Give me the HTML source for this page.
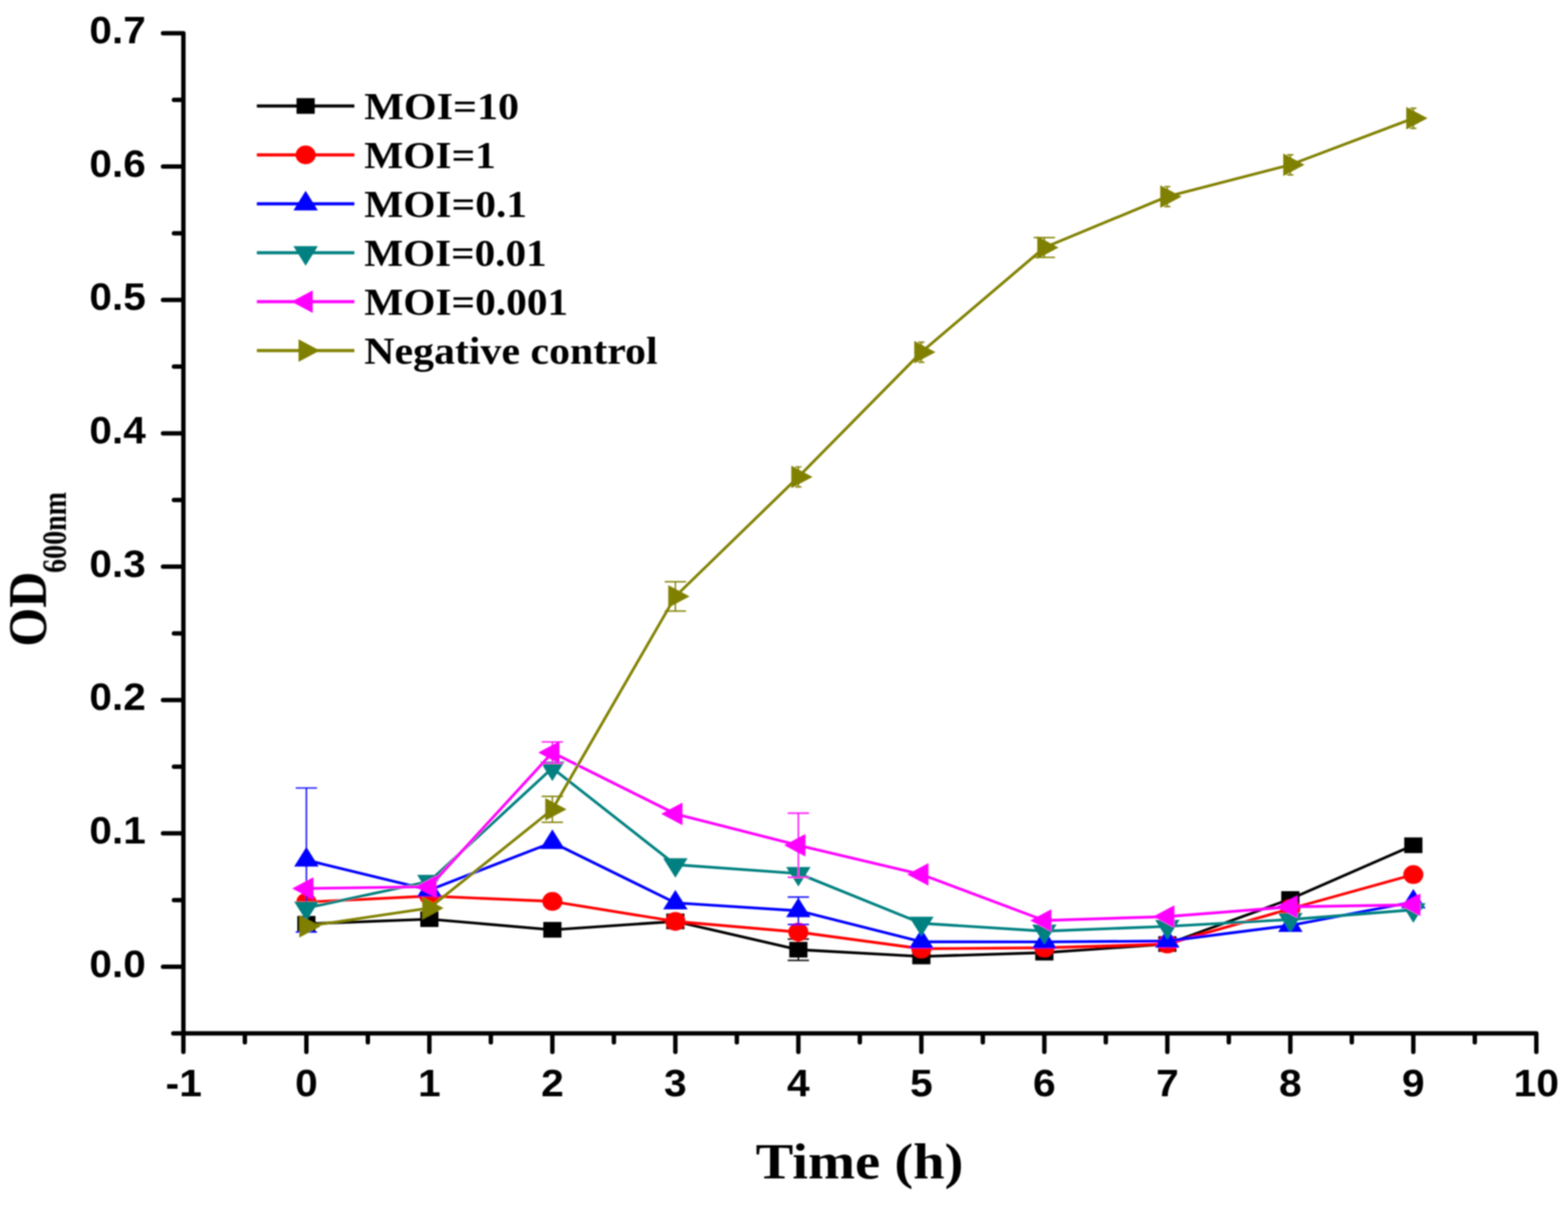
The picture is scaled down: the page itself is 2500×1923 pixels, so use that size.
<!DOCTYPE html>
<html><head><meta charset="utf-8"><title>OD600 growth curve</title>
<style>html,body{margin:0;padding:0;background:#fff;overflow:hidden;width:2500px;height:1923px;}svg{display:block;}</style></head>
<body><svg width="2500" height="1923" viewBox="0 0 2500 1923">
<defs><filter id="soft" x="0" y="0" width="100%" height="100%" filterUnits="userSpaceOnUse"><feGaussianBlur stdDeviation="1.2"/></filter></defs>
<rect width="2500" height="1923" fill="#fff"/>
<g filter="url(#soft)">
<path d="M259.9,53.0H292.4V1677.3M276.3,1647.8H2449.5V1677.3M259.9,1541.5H292.4M259.9,1328.8H292.4M259.9,1116.2H292.4M259.9,903.6H292.4M259.9,690.9H292.4M259.9,478.2H292.4M259.9,265.6H292.4M277.3,1435.2H292.4M277.3,1222.5H292.4M277.3,1009.9H292.4M277.3,797.2H292.4M277.3,584.6H292.4M277.3,371.9H292.4M277.3,159.3H292.4M488.5,1647.8V1677.3M684.6,1647.8V1677.3M880.7,1647.8V1677.3M1076.8,1647.8V1677.3M1272.9,1647.8V1677.3M1469.0,1647.8V1677.3M1665.1,1647.8V1677.3M1861.2,1647.8V1677.3M2057.3,1647.8V1677.3M2253.4,1647.8V1677.3M390.4,1647.8V1661.9M586.5,1647.8V1661.9M782.6,1647.8V1661.9M978.8,1647.8V1661.9M1174.8,1647.8V1661.9M1370.9,1647.8V1661.9M1567.0,1647.8V1661.9M1763.1,1647.8V1661.9M1959.2,1647.8V1661.9M2155.3,1647.8V1661.9M2351.4,1647.8V1661.9" fill="none" stroke="#000" stroke-width="7.0" stroke-linecap="round" stroke-linejoin="round"/>
<text transform="translate(232.40,1557.50) scale(1.0500,1)" text-anchor="end" font-family="&quot;Liberation Sans&quot;, Arial, sans-serif" font-weight="bold" font-size="61.6" fill="#000">0.0</text>
<text transform="translate(232.40,1344.85) scale(1.0500,1)" text-anchor="end" font-family="&quot;Liberation Sans&quot;, Arial, sans-serif" font-weight="bold" font-size="61.6" fill="#000">0.1</text>
<text transform="translate(232.40,1132.20) scale(1.0500,1)" text-anchor="end" font-family="&quot;Liberation Sans&quot;, Arial, sans-serif" font-weight="bold" font-size="61.6" fill="#000">0.2</text>
<text transform="translate(232.40,919.55) scale(1.0500,1)" text-anchor="end" font-family="&quot;Liberation Sans&quot;, Arial, sans-serif" font-weight="bold" font-size="61.6" fill="#000">0.3</text>
<text transform="translate(232.40,706.90) scale(1.0500,1)" text-anchor="end" font-family="&quot;Liberation Sans&quot;, Arial, sans-serif" font-weight="bold" font-size="61.6" fill="#000">0.4</text>
<text transform="translate(232.40,494.25) scale(1.0500,1)" text-anchor="end" font-family="&quot;Liberation Sans&quot;, Arial, sans-serif" font-weight="bold" font-size="61.6" fill="#000">0.5</text>
<text transform="translate(232.40,281.60) scale(1.0500,1)" text-anchor="end" font-family="&quot;Liberation Sans&quot;, Arial, sans-serif" font-weight="bold" font-size="61.6" fill="#000">0.6</text>
<text transform="translate(232.40,68.95) scale(1.0500,1)" text-anchor="end" font-family="&quot;Liberation Sans&quot;, Arial, sans-serif" font-weight="bold" font-size="61.6" fill="#000">0.7</text>
<text transform="translate(292.90,1747.60) scale(1.0550,1)" text-anchor="middle" font-family="&quot;Liberation Sans&quot;, Arial, sans-serif" font-weight="bold" font-size="61.6" fill="#000">-1</text>
<text transform="translate(488.50,1747.60) scale(1.0550,1)" text-anchor="middle" font-family="&quot;Liberation Sans&quot;, Arial, sans-serif" font-weight="bold" font-size="61.6" fill="#000">0</text>
<text transform="translate(684.60,1747.60) scale(1.0550,1)" text-anchor="middle" font-family="&quot;Liberation Sans&quot;, Arial, sans-serif" font-weight="bold" font-size="61.6" fill="#000">1</text>
<text transform="translate(880.70,1747.60) scale(1.0550,1)" text-anchor="middle" font-family="&quot;Liberation Sans&quot;, Arial, sans-serif" font-weight="bold" font-size="61.6" fill="#000">2</text>
<text transform="translate(1076.80,1747.60) scale(1.0550,1)" text-anchor="middle" font-family="&quot;Liberation Sans&quot;, Arial, sans-serif" font-weight="bold" font-size="61.6" fill="#000">3</text>
<text transform="translate(1272.90,1747.60) scale(1.0550,1)" text-anchor="middle" font-family="&quot;Liberation Sans&quot;, Arial, sans-serif" font-weight="bold" font-size="61.6" fill="#000">4</text>
<text transform="translate(1469.00,1747.60) scale(1.0550,1)" text-anchor="middle" font-family="&quot;Liberation Sans&quot;, Arial, sans-serif" font-weight="bold" font-size="61.6" fill="#000">5</text>
<text transform="translate(1665.10,1747.60) scale(1.0550,1)" text-anchor="middle" font-family="&quot;Liberation Sans&quot;, Arial, sans-serif" font-weight="bold" font-size="61.6" fill="#000">6</text>
<text transform="translate(1861.20,1747.60) scale(1.0550,1)" text-anchor="middle" font-family="&quot;Liberation Sans&quot;, Arial, sans-serif" font-weight="bold" font-size="61.6" fill="#000">7</text>
<text transform="translate(2057.30,1747.60) scale(1.0550,1)" text-anchor="middle" font-family="&quot;Liberation Sans&quot;, Arial, sans-serif" font-weight="bold" font-size="61.6" fill="#000">8</text>
<text transform="translate(2253.40,1747.60) scale(1.0550,1)" text-anchor="middle" font-family="&quot;Liberation Sans&quot;, Arial, sans-serif" font-weight="bold" font-size="61.6" fill="#000">9</text>
<text transform="translate(2449.50,1747.60) scale(1.0550,1)" text-anchor="middle" font-family="&quot;Liberation Sans&quot;, Arial, sans-serif" font-weight="bold" font-size="61.6" fill="#000">10</text>
<text transform="matrix(0.90166,0,0,0.79667,1204.70,1878.97)" font-family="&quot;Liberation Serif&quot;, &quot;Times New Roman&quot;, serif" font-weight="bold" font-size="100" fill="#000">Time (h)</text>
<text transform="matrix(0,-0.79786,0.87463,0,72.95,1031.09)" font-family="&quot;Liberation Serif&quot;, &quot;Times New Roman&quot;, serif" font-weight="bold" font-size="100" fill="#000">OD</text>
<text transform="matrix(0,-0.44683,0.54030,0,105.02,913.54)" font-family="&quot;Liberation Serif&quot;, &quot;Times New Roman&quot;, serif" font-weight="bold" font-size="100" fill="#000">600nm</text>
<path d="M1272.9,1497.3V1531.3M1255.9,1497.3h34M1255.9,1531.3h34" fill="none" stroke="#000000" stroke-width="2.2"/>
<polyline points="488.5,1473.0 684.6,1465.6 880.7,1482.6 1076.8,1469.2 1272.9,1514.3 1469.0,1525.1 1665.1,1519.0 1861.2,1505.3 2057.3,1433.5 2253.4,1347.8" fill="none" stroke="#000000" stroke-width="4.4" stroke-linejoin="round"/>
<rect x="474.0" y="1460.5" width="29" height="25" fill="#000000"/>
<rect x="670.1" y="1453.1" width="29" height="25" fill="#000000"/>
<rect x="866.2" y="1470.1" width="29" height="25" fill="#000000"/>
<rect x="1062.3" y="1456.7" width="29" height="25" fill="#000000"/>
<rect x="1258.4" y="1501.8" width="29" height="25" fill="#000000"/>
<rect x="1454.5" y="1512.6" width="29" height="25" fill="#000000"/>
<rect x="1650.6" y="1506.5" width="29" height="25" fill="#000000"/>
<rect x="1846.7" y="1492.8" width="29" height="25" fill="#000000"/>
<rect x="2042.8" y="1421.0" width="29" height="25" fill="#000000"/>
<rect x="2238.9" y="1335.3" width="29" height="25" fill="#000000"/>
<polyline points="488.5,1438.4 684.6,1428.8 880.7,1437.3 1076.8,1469.2 1272.9,1486.2 1469.0,1512.8 1665.1,1511.3 1861.2,1505.3 2057.3,1449.0 2253.4,1394.6" fill="none" stroke="#FF0000" stroke-width="4.4" stroke-linejoin="round"/>
<ellipse cx="488.5" cy="1438.4" rx="16" ry="15" fill="#FF0000"/>
<ellipse cx="684.6" cy="1428.8" rx="16" ry="15" fill="#FF0000"/>
<ellipse cx="880.7" cy="1437.3" rx="16" ry="15" fill="#FF0000"/>
<ellipse cx="1076.8" cy="1469.2" rx="16" ry="15" fill="#FF0000"/>
<ellipse cx="1272.9" cy="1486.2" rx="16" ry="15" fill="#FF0000"/>
<ellipse cx="1469.0" cy="1512.8" rx="16" ry="15" fill="#FF0000"/>
<ellipse cx="1665.1" cy="1511.3" rx="16" ry="15" fill="#FF0000"/>
<ellipse cx="1861.2" cy="1505.3" rx="16" ry="15" fill="#FF0000"/>
<ellipse cx="2057.3" cy="1449.0" rx="16" ry="15" fill="#FF0000"/>
<ellipse cx="2253.4" cy="1394.6" rx="16" ry="15" fill="#FF0000"/>
<path d="M488.5,1256.5V1486.2M471.5,1256.5h34M471.5,1486.2h34M1272.9,1430.3V1474.1M1255.9,1430.3h34M1255.9,1474.1h34" fill="none" stroke="#0000FF" stroke-width="2.2"/>
<polyline points="488.5,1371.4 684.6,1419.2 880.7,1343.3 1076.8,1439.6 1272.9,1452.2 1469.0,1501.7 1665.1,1501.9 1861.2,1500.5 2057.3,1475.6 2253.4,1438.2" fill="none" stroke="#0000FF" stroke-width="4.4" stroke-linejoin="round"/>
<polygon points="488.5,1350.6 469.0,1381.8 508.0,1381.8" fill="#0000FF"/>
<polygon points="684.6,1398.4 665.1,1429.6 704.1,1429.6" fill="#0000FF"/>
<polygon points="880.7,1322.5 861.2,1353.7 900.2,1353.7" fill="#0000FF"/>
<polygon points="1076.8,1418.9 1057.3,1450.0 1096.3,1450.0" fill="#0000FF"/>
<polygon points="1272.9,1431.4 1253.4,1462.6 1292.4,1462.6" fill="#0000FF"/>
<polygon points="1469.0,1480.9 1449.5,1512.1 1488.5,1512.1" fill="#0000FF"/>
<polygon points="1665.1,1481.2 1645.6,1512.3 1684.6,1512.3" fill="#0000FF"/>
<polygon points="1861.2,1479.7 1841.7,1510.9 1880.7,1510.9" fill="#0000FF"/>
<polygon points="2057.3,1454.8 2037.8,1486.0 2076.8,1486.0" fill="#0000FF"/>
<polygon points="2253.4,1417.4 2233.9,1448.5 2272.9,1448.5" fill="#0000FF"/>
<polyline points="488.5,1447.9 684.6,1405.4 880.7,1224.7 1076.8,1378.8 1272.9,1392.9 1469.0,1472.2 1665.1,1484.7 1861.2,1477.1 2057.3,1466.2 2253.4,1450.7" fill="none" stroke="#008080" stroke-width="4.4" stroke-linejoin="round"/>
<polygon points="488.5,1468.7 469.0,1437.5 508.0,1437.5" fill="#008080"/>
<polygon points="684.6,1426.2 665.1,1395.0 704.1,1395.0" fill="#008080"/>
<polygon points="880.7,1245.4 861.2,1214.3 900.2,1214.3" fill="#008080"/>
<polygon points="1076.8,1399.6 1057.3,1368.4 1096.3,1368.4" fill="#008080"/>
<polygon points="1272.9,1413.6 1253.4,1382.5 1292.4,1382.5" fill="#008080"/>
<polygon points="1469.0,1493.0 1449.5,1461.8 1488.5,1461.8" fill="#008080"/>
<polygon points="1665.1,1505.5 1645.6,1474.3 1684.6,1474.3" fill="#008080"/>
<polygon points="1861.2,1497.9 1841.7,1466.7 1880.7,1466.7" fill="#008080"/>
<polygon points="2057.3,1487.0 2037.8,1455.8 2076.8,1455.8" fill="#008080"/>
<polygon points="2253.4,1471.5 2233.9,1440.3 2272.9,1440.3" fill="#008080"/>
<path d="M880.7,1183.0V1217.0M863.7,1183.0h34M863.7,1217.0h34M1272.9,1296.7V1398.8M1255.9,1296.7h34M1255.9,1398.8h34" fill="none" stroke="#FF00FF" stroke-width="2.2"/>
<polyline points="488.5,1416.7 684.6,1413.9 880.7,1200.0 1076.8,1297.8 1272.9,1347.8 1469.0,1394.3 1665.1,1467.7 1861.2,1461.5 2057.3,1446.0 2253.4,1442.8" fill="none" stroke="#FF00FF" stroke-width="4.4" stroke-linejoin="round"/>
<polygon points="465.9,1416.7 499.8,1398.7 499.8,1434.7" fill="#FF00FF"/>
<polygon points="662.0,1413.9 695.9,1395.9 695.9,1431.9" fill="#FF00FF"/>
<polygon points="858.1,1200.0 892.0,1182.0 892.0,1218.0" fill="#FF00FF"/>
<polygon points="1054.2,1297.8 1088.1,1279.8 1088.1,1315.8" fill="#FF00FF"/>
<polygon points="1250.3,1347.8 1284.2,1329.8 1284.2,1365.8" fill="#FF00FF"/>
<polygon points="1446.4,1394.3 1480.3,1376.3 1480.3,1412.3" fill="#FF00FF"/>
<polygon points="1642.5,1467.7 1676.4,1449.7 1676.4,1485.7" fill="#FF00FF"/>
<polygon points="1838.6,1461.5 1872.5,1443.5 1872.5,1479.5" fill="#FF00FF"/>
<polygon points="2034.7,1446.0 2068.6,1428.0 2068.6,1464.0" fill="#FF00FF"/>
<polygon points="2230.8,1442.8 2264.7,1424.8 2264.7,1460.8" fill="#FF00FF"/>
<path d="M880.7,1269.9V1311.2M863.7,1269.9h34M863.7,1311.2h34M1076.8,927.6V974.4M1059.8,927.6h34M1059.8,974.4h34M1272.9,744.5V776.4M1267.9,744.5h10M1267.9,776.4h10M1469.0,545.7V577.6M1464.0,545.7h10M1464.0,577.6h10M1665.1,378.9V410.4M1648.1,378.9h34M1648.1,410.4h34M1861.2,297.5V329.4M1856.2,297.5h10M1856.2,329.4h10M2057.3,246.9V278.8M2052.3,246.9h10M2052.3,278.8h10M2253.4,172.7V204.6M2248.4,172.7h10M2248.4,204.6h10" fill="none" stroke="#808000" stroke-width="2.2"/>
<polyline points="488.5,1477.1 684.6,1447.9 880.7,1290.6 1076.8,951.0 1272.9,760.4 1469.0,561.6 1665.1,394.7 1861.2,313.4 2057.3,262.8 2253.4,188.6" fill="none" stroke="#808000" stroke-width="4.4" stroke-linejoin="round"/>
<polygon points="511.1,1477.1 477.2,1459.1 477.2,1495.1" fill="#808000"/>
<polygon points="707.2,1447.9 673.3,1429.9 673.3,1465.9" fill="#808000"/>
<polygon points="903.3,1290.6 869.4,1272.6 869.4,1308.6" fill="#808000"/>
<polygon points="1099.4,951.0 1065.5,933.0 1065.5,969.0" fill="#808000"/>
<polygon points="1295.5,760.4 1261.6,742.4 1261.6,778.4" fill="#808000"/>
<polygon points="1491.6,561.6 1457.7,543.6 1457.7,579.6" fill="#808000"/>
<polygon points="1687.7,394.7 1653.8,376.7 1653.8,412.7" fill="#808000"/>
<polygon points="1883.8,313.4 1849.9,295.4 1849.9,331.4" fill="#808000"/>
<polygon points="2079.9,262.8 2046.0,244.8 2046.0,280.8" fill="#808000"/>
<polygon points="2276.0,188.6 2242.1,170.6 2242.1,206.6" fill="#808000"/>
<path d="M409.5,169.0H565" stroke="#000000" stroke-width="4.8" fill="none"/>
<rect x="472.8" y="156.5" width="29" height="25" fill="#000000"/>
<text transform="translate(580.66,189.80) scale(1.0860,1)" text-anchor="start" font-family="&quot;Liberation Serif&quot;, &quot;Times New Roman&quot;, serif" font-weight="bold" font-size="61.8" fill="#000">MOI=10</text>
<path d="M409.5,247.0H565" stroke="#FF0000" stroke-width="4.8" fill="none"/>
<ellipse cx="487.3" cy="247.0" rx="16" ry="15" fill="#FF0000"/>
<text transform="translate(580.66,267.80) scale(1.0683,1)" text-anchor="start" font-family="&quot;Liberation Serif&quot;, &quot;Times New Roman&quot;, serif" font-weight="bold" font-size="61.8" fill="#000">MOI=1</text>
<path d="M409.5,325.0H565" stroke="#0000FF" stroke-width="4.8" fill="none"/>
<polygon points="487.3,304.2 467.8,335.4 506.8,335.4" fill="#0000FF"/>
<text transform="translate(580.66,345.80) scale(1.0684,1)" text-anchor="start" font-family="&quot;Liberation Serif&quot;, &quot;Times New Roman&quot;, serif" font-weight="bold" font-size="61.8" fill="#000">MOI=0.1</text>
<path d="M409.5,403.0H565" stroke="#008080" stroke-width="4.8" fill="none"/>
<polygon points="487.3,423.8 467.8,392.6 506.8,392.6" fill="#008080"/>
<text transform="translate(580.66,423.80) scale(1.0630,1)" text-anchor="start" font-family="&quot;Liberation Serif&quot;, &quot;Times New Roman&quot;, serif" font-weight="bold" font-size="61.8" fill="#000">MOI=0.01</text>
<path d="M409.5,481.0H565" stroke="#FF00FF" stroke-width="4.8" fill="none"/>
<polygon points="464.7,481.0 498.6,463.0 498.6,499.0" fill="#FF00FF"/>
<text transform="translate(580.66,501.80) scale(1.0673,1)" text-anchor="start" font-family="&quot;Liberation Serif&quot;, &quot;Times New Roman&quot;, serif" font-weight="bold" font-size="61.8" fill="#000">MOI=0.001</text>
<path d="M409.5,559.0H565" stroke="#808000" stroke-width="4.8" fill="none"/>
<polygon points="509.9,559.0 476.0,541.0 476.0,577.0" fill="#808000"/>
<text transform="translate(580.66,579.80) scale(1.0804,1)" text-anchor="start" font-family="&quot;Liberation Serif&quot;, &quot;Times New Roman&quot;, serif" font-weight="bold" font-size="61.8" fill="#000">Negative control</text>
</g>
</svg></body></html>
